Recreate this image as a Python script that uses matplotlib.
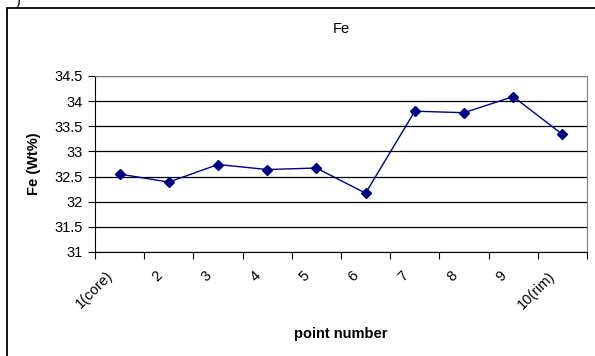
import matplotlib
matplotlib.use('Agg')
import matplotlib.pyplot as plt
import matplotlib.transforms as mtransforms
from matplotlib.patches import Rectangle

# ─── Data ───
categories = ['1(core)', '2', '3', '4', '5', '6', '7', '8', '9', '10(rim)']
fe_wt = [32.55, 32.39, 32.74, 32.64, 32.67, 32.17, 33.80, 33.77, 34.09, 33.34]
y_ticks = [31, 31.5, 32, 32.5, 33, 33.5, 34, 34.5]

plt.rcParams['font.family'] = ['Liberation Sans', 'DejaVu Sans']
FS = 10.5

W, H = 595, 356
fig = plt.figure(figsize=(W / 100, H / 100), dpi=100)

# plot area in pixels: left 95, right 587, top 76, bottom 252
ax = fig.add_axes([95 / W, 1 - 252 / H, (587 - 95) / W, (252 - 76) / H])

x = list(range(len(categories)))
ax.plot(x, fe_wt, color='#000080', linewidth=1, marker='D', markersize=5,
        markerfacecolor='#000080', markeredgecolor='#000080')

ax.set_xlim(-0.5, len(categories) - 0.5)
ax.set_ylim(31, 34.5)
ax.set_yticks(y_ticks)
ax.set_yticklabels([f'{v:g}' for v in y_ticks], fontsize=FS)
ax.yaxis.grid(True, color='black', linewidth=0.9)
ax.set_axisbelow(True)

# category ticks sit between points
ax.set_xticks([i - 0.5 for i in range(len(categories) + 1)])
ax.set_xticklabels([])
ax.set_xticks(x, minor=True)
ax.set_xticklabels(categories, minor=True, rotation=45, ha='right', va='top',
                   rotation_mode='anchor', fontsize=FS)
ax.tick_params(axis='x', which='minor', length=0, pad=12)
ax.tick_params(axis='x', which='major', length=5, color='black')
ax.tick_params(axis='y', length=5, color='black')

# Excel puts rotated labels a bit left of the category centre
shift = mtransforms.ScaledTranslation(-14 / 100, 0, fig.dpi_scale_trans)
for lbl in ax.get_xticklabels(minor=True):
    lbl.set_transform(lbl.get_transform() + shift)

for side in ['top', 'right']:
    ax.spines[side].set_color('#808080')
for side in ['left', 'bottom']:
    ax.spines[side].set_color('black')

ax.set_title('Fe', fontsize=FS, pad=31)
ax.set_ylabel('Fe (Wt%)', fontsize=FS, fontweight='bold', labelpad=10)
ax.set_xlabel('point number', fontsize=FS, fontweight='bold', labelpad=11)

# outer chart frame
fig.patches.append(Rectangle((7 / W, -0.1), 1.0, 1 - 8 / H + 0.1,
                             transform=fig.transFigure, fill=False,
                             edgecolor='black', linewidth=1.3))
fig.text(16 / W, 1 - 1 / H, ')', fontsize=FS, ha='left', va='center')

fig.savefig('out.png', dpi=100)
